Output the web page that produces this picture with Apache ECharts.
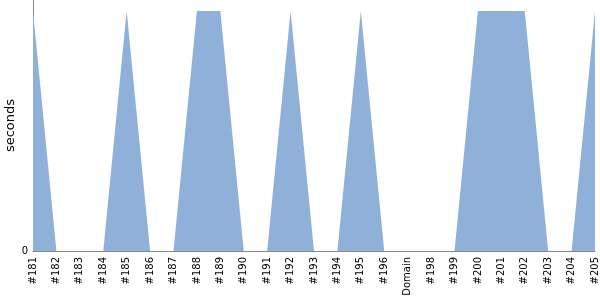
<!DOCTYPE html>
<html><head><meta charset="utf-8">
<script src="https://cdn.jsdelivr.net/npm/echarts@6/dist/echarts.min.js"></script>
<style>html,body{margin:0;padding:0;background:#fff}#c{width:600px;height:300px}</style>
</head><body><div id="c"></div>
<script>
const categories = ['#181','#182','#183','#184','#185','#186','#187','#188','#189','#190','#191','#192','#193','#194','#195','#196','Domain','#198','#199','#200','#201','#202','#203','#204','#205'];
const seconds = [1,0,0,0,1,0,0,1,1,0,0,1,0,0,1,0,0,0,0,1,1,1,0,0,1];
const yLabel = 'seconds';
const chart = echarts.init(document.getElementById('c'));
chart.setOption({
  animation: false,
  grid: {left: 33, right: 5, top: 0, bottom: 49, containLabel: false, outerBoundsMode: 'none'},
  xAxis: {
    type: 'category', data: categories, boundaryGap: false,
    axisLine: {lineStyle: {color: '#888', width: 1}},
    axisTick: {show: false},
    axisLabel: {rotate: 90, interval: 0, color: '#000', fontFamily: 'DejaVu Sans', fontSize: 10, margin: 6}
  },
  yAxis: {
    type: 'value', min: 0, max: 1.0458, interval: 2,
    name: yLabel, nameLocation: 'middle', nameGap: 16, nameRotate: 90, nameMoveOverlap: false,
    nameTextStyle: {fontFamily: 'DejaVu Sans', fontSize: 13, color: '#000'},
    axisLine: {show: true, lineStyle: {color: '#888', width: 1}},
    axisTick: {show: false},
    splitLine: {show: false},
    axisLabel: {color: '#000', fontFamily: 'DejaVu Sans', fontSize: 10, margin: 5, formatter: v => v === 0 ? '0' : ''}
  },
  series: [{
    type: 'line', data: seconds, symbol: 'none',
    lineStyle: {width: 0},
    areaStyle: {color: '#8fb1d9', opacity: 1},
    z: 1
  }]
});
</script></body></html>
